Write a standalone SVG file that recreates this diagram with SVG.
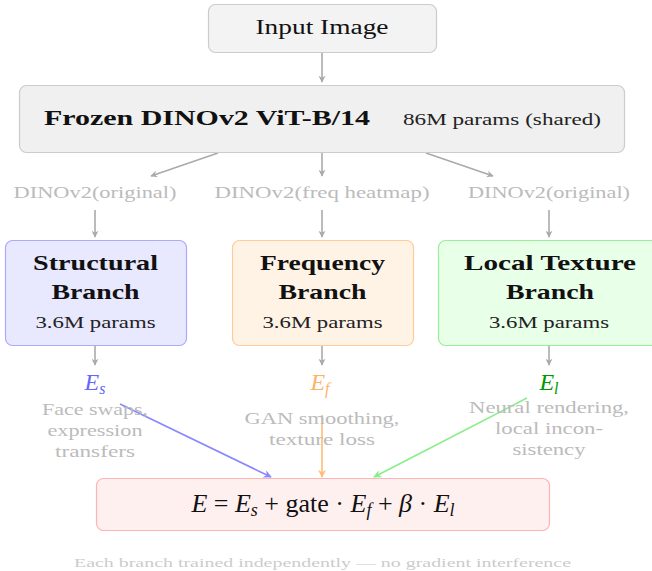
<svg xmlns="http://www.w3.org/2000/svg" width="652" height="571" viewBox="0 0 652 571">
<defs>
<style>
.box{stroke-width:1.2;}
.t{font-size:20px;fill:#111111;text-anchor:middle;}
.b{font-weight:bold;font-size:21px;fill:#111111;text-anchor:middle;}
.p{font-size:16.5px;fill:#222222;text-anchor:middle;}
.g{font-size:16.5px;fill:#bbbbbb;text-anchor:middle;}
.e{font-size:24px;font-style:italic;text-anchor:middle;}
.ln{fill:none;stroke-width:1.6;}
</style>
<marker id="ag" viewBox="0 0 10 10" refX="9" refY="5" markerWidth="7" markerHeight="7" markerUnits="userSpaceOnUse" orient="auto"><path d="M0,0 L10,5 L0,10 L3,5 Z" fill="#aaaaaa"/></marker>
<marker id="ab" viewBox="0 0 10 10" refX="9" refY="5" markerWidth="8" markerHeight="8" markerUnits="userSpaceOnUse" orient="auto"><path d="M0,0 L10,5 L0,10 L3,5 Z" fill="#8888ff"/></marker>
<marker id="ao" viewBox="0 0 10 10" refX="9" refY="5" markerWidth="8" markerHeight="8" markerUnits="userSpaceOnUse" orient="auto"><path d="M0,0 L10,5 L0,10 L3,5 Z" fill="#ffbb77"/></marker>
<marker id="agr" viewBox="0 0 10 10" refX="9" refY="5" markerWidth="8" markerHeight="8" markerUnits="userSpaceOnUse" orient="auto"><path d="M0,0 L10,5 L0,10 L3,5 Z" fill="#88ee88"/></marker>
</defs>
<rect width="652" height="571" fill="#ffffff"/>

<g id="connectors">
<line class="ln" x1="322" y1="53" x2="322" y2="82" stroke="#aaaaaa" marker-end="url(#ag)"/>
<line class="ln" x1="218" y1="153" x2="151" y2="176" stroke="#aaaaaa" marker-end="url(#ag)"/>
<line class="ln" x1="322" y1="153" x2="322" y2="176" stroke="#aaaaaa" marker-end="url(#ag)"/>
<line class="ln" x1="426" y1="153" x2="493" y2="176" stroke="#aaaaaa" marker-end="url(#ag)"/>
<line class="ln" x1="95" y1="210" x2="95" y2="237" stroke="#aaaaaa" marker-end="url(#ag)"/>
<line class="ln" x1="322" y1="210" x2="322" y2="237" stroke="#aaaaaa" marker-end="url(#ag)"/>
<line class="ln" x1="549" y1="210" x2="549" y2="237" stroke="#aaaaaa" marker-end="url(#ag)"/>
<line class="ln" x1="95" y1="346" x2="95" y2="365" stroke="#aaaaaa" marker-end="url(#ag)"/>
<line class="ln" x1="322" y1="346" x2="322" y2="365" stroke="#aaaaaa" marker-end="url(#ag)"/>
<line class="ln" x1="549" y1="346" x2="549" y2="365" stroke="#aaaaaa" marker-end="url(#ag)"/>
<line class="ln" x1="120" y1="404" x2="271" y2="477" stroke="#8888ff" marker-end="url(#ab)"/>
<line class="ln" x1="322" y1="415" x2="322" y2="477" stroke="#ffbb77" marker-end="url(#ao)"/>
<line class="ln" x1="527" y1="398" x2="374" y2="477" stroke="#88ee88" marker-end="url(#agr)"/>
</g>

<g id="input">
<rect class="box" x="208.5" y="4.5" width="228" height="48" rx="7" fill="#f3f3f3" stroke="#cccccc"/>
<text class="t" font-family="Liberation Serif" x="322" y="34" textLength="133" lengthAdjust="spacingAndGlyphs">Input Image</text>
</g>

<g id="dino">
<rect class="box" x="19.5" y="85.5" width="605" height="67" rx="7" fill="#f0f0f0" stroke="#cccccc"/>
<text font-family="Liberation Serif" x="44" y="125" font-size="21" font-weight="bold" fill="#111111" textLength="326" lengthAdjust="spacingAndGlyphs">Frozen DINOv2 ViT-B/14</text>
<text font-family="Liberation Serif" x="403" y="125" font-size="16.5" fill="#222222" textLength="198" lengthAdjust="spacingAndGlyphs">86M params (shared)</text>
</g>

<g id="in-labels">
<text class="g" font-family="Liberation Serif" x="95" y="198" textLength="163" lengthAdjust="spacingAndGlyphs">DINOv2(original)</text>
<text class="g" font-family="Liberation Serif" x="322" y="198" textLength="215" lengthAdjust="spacingAndGlyphs">DINOv2(freq heatmap)</text>
<text class="g" font-family="Liberation Serif" x="549" y="198" textLength="162" lengthAdjust="spacingAndGlyphs">DINOv2(original)</text>
</g>

<g id="structural">
<rect class="box" x="5.5" y="240.5" width="181" height="105" rx="7" fill="#e8e8ff" stroke="#aaaaff"/>
<text class="b" font-family="Liberation Serif" x="95.5" y="270" textLength="125" lengthAdjust="spacingAndGlyphs">Structural</text>
<text class="b" font-family="Liberation Serif" x="95.5" y="299" textLength="88" lengthAdjust="spacingAndGlyphs">Branch</text>
<text class="p" font-family="Liberation Serif" x="95.5" y="328" textLength="120" lengthAdjust="spacingAndGlyphs">3.6M params</text>
</g>

<g id="frequency">
<rect class="box" x="232.5" y="240.5" width="181" height="105" rx="7" fill="#fff3e6" stroke="#ffcc99"/>
<text class="b" font-family="Liberation Serif" x="322.5" y="270" textLength="125" lengthAdjust="spacingAndGlyphs">Frequency</text>
<text class="b" font-family="Liberation Serif" x="322.5" y="299" textLength="88" lengthAdjust="spacingAndGlyphs">Branch</text>
<text class="p" font-family="Liberation Serif" x="322.5" y="328" textLength="120" lengthAdjust="spacingAndGlyphs">3.6M params</text>
</g>

<g id="local">
<rect class="box" x="438.5" y="240.5" width="222" height="105" rx="7" fill="#e8ffe8" stroke="#99ee99"/>
<text class="b" font-family="Liberation Serif" x="550" y="270" textLength="172" lengthAdjust="spacingAndGlyphs">Local Texture</text>
<text class="b" font-family="Liberation Serif" x="550" y="299" textLength="88" lengthAdjust="spacingAndGlyphs">Branch</text>
<text class="p" font-family="Liberation Serif" x="549" y="328" textLength="120" lengthAdjust="spacingAndGlyphs">3.6M params</text>
</g>

<g id="es">
<text class="e" font-family="Liberation Serif" x="95" y="390" fill="#6666ff">E<tspan font-size="16" dy="4">s</tspan></text>
<text class="g" font-family="Liberation Serif" x="95" y="415" textLength="106" lengthAdjust="spacingAndGlyphs">Face swaps,</text>
<text class="g" font-family="Liberation Serif" x="95" y="436" textLength="95" lengthAdjust="spacingAndGlyphs">expression</text>
<text class="g" font-family="Liberation Serif" x="95" y="457" textLength="80" lengthAdjust="spacingAndGlyphs">transfers</text>
</g>

<g id="ef">
<text class="e" font-family="Liberation Serif" x="320" y="390" fill="#ffb366">E<tspan font-size="16" dy="4">f</tspan></text>
<text class="g" font-family="Liberation Serif" x="322" y="424" textLength="155" lengthAdjust="spacingAndGlyphs">GAN smoothing,</text>
<text class="g" font-family="Liberation Serif" x="322" y="445" textLength="106" lengthAdjust="spacingAndGlyphs">texture loss</text>
</g>

<g id="el">
<text class="e" font-family="Liberation Serif" x="549" y="390" fill="#009900">E<tspan font-size="16" dy="4">l</tspan></text>
<text class="g" font-family="Liberation Serif" x="549" y="413" textLength="160" lengthAdjust="spacingAndGlyphs">Neural rendering,</text>
<text class="g" font-family="Liberation Serif" x="549" y="434" textLength="108" lengthAdjust="spacingAndGlyphs">local incon-</text>
<text class="g" font-family="Liberation Serif" x="549" y="455" textLength="73" lengthAdjust="spacingAndGlyphs">sistency</text>
</g>

<g id="fusion">
<rect class="box" x="96.5" y="478.5" width="453" height="52" rx="7" fill="#fff0f0" stroke="#ffb3b3"/>
<text font-family="Liberation Serif" x="323" y="512" font-size="26" fill="#111111" text-anchor="middle"><tspan font-style="italic">E</tspan> = <tspan font-style="italic">E</tspan><tspan font-style="italic" font-size="18" dy="4">s</tspan><tspan dy="-4"> + gate · </tspan><tspan font-style="italic">E</tspan><tspan font-style="italic" font-size="18" dy="4">f</tspan><tspan dy="-4"> + </tspan><tspan font-style="italic">β</tspan> · <tspan font-style="italic">E</tspan><tspan font-style="italic" font-size="18" dy="4">l</tspan></text>
</g>

<g id="footer">
<text font-family="Liberation Serif" x="74" y="567" font-size="11.5" fill="#cccccc" textLength="497" lengthAdjust="spacingAndGlyphs">Each branch trained independently — no gradient interference</text>
</g>
</svg>
